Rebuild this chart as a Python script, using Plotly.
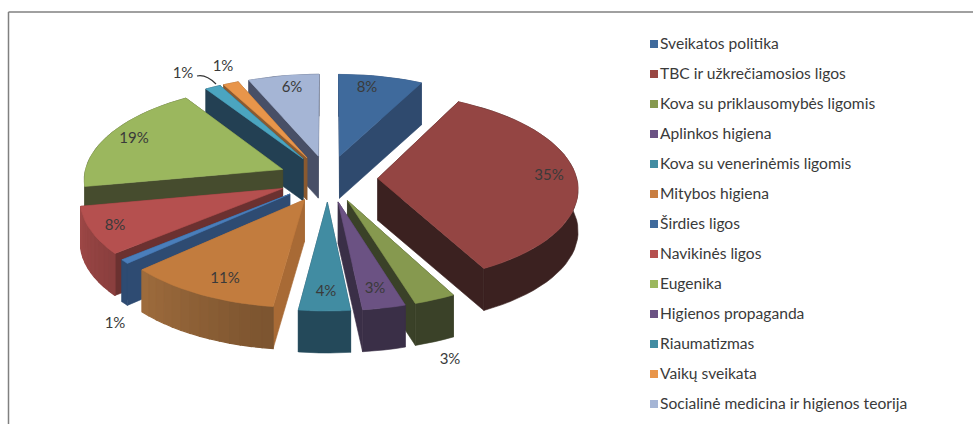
import math
import plotly.graph_objects as go

# ---------- data ----------
categories = ["Sveikatos politika", "TBC ir užkrečiamosios ligos", "Kova su priklausomybės ligomis",
              "Aplinkos higiena", "Kova su venerinėmis ligomis", "Mitybos higiena", "Širdies ligos",
              "Navikinės ligos", "Eugenika", "Higienos propaganda", "Riaumatizmas", "Vaikų sveikata",
              "Socialinė medicina ir higienos teorija"]
values = [7.6, 34.6, 3.0, 3.1, 3.7, 11.2, 0.7, 8.1, 18.7, 0.0, 1.4, 1.4, 6.4]
value_labels = ["8%", "35%", "3%", "3%", "4%", "11%", "1%", "8%", "19%", "", "1%", "1%", "6%"]

# ---------- style ----------
top_colors = ["#3F6A9C", "#944543", "#86994F", "#6B5283", "#418CA2", "#C27C3E", "#4A7EBB",
              "#B5504F", "#9BB75E", "#6B5283", "#4BA5C0", "#E8954A", "#A5B5D5"]
radial_colors = ["#2F4A6E", "#3B2120", "#3A4128", "#3A2F47", "#24495A", "#A86A35", "#2E4B72",
                 "#6B3130", "#464C2E", "#3A2F47", "#234053", "#8A5A30", "#484F66"]
arc_colors = ["#2F4A6E", "#3B2120", "#3A4128", "#3A2F47", "#24495A", "#7D5530", "#2E4B72",
              "#6B3130", "#464C2E", "#3A2F47", "#234053", "#8A5A30", "#484F66"]
legend_colors = ["#3F6A9C", "#994743", "#86994F", "#6B5283", "#418CA2", "#C87E42", "#3F6A9C",
                 "#B5504F", "#9BB75E", "#6B5283", "#418CA2", "#E8954A", "#A5B5D5"]
label_xy = [(367, 88), (549, 176), (450, 360), (375, 289), (326, 292), (225, 279), (115, 324),
            (115, 226), (134, 139), None, (183, 74), (223, 67), (292, 88)]
shaded = {5, 7}
FONT = "Lato"
TEXT = "#3A3A3A"

CX, CY, R, TILT, PERSP, EXPLODE, DEPTH = 328, 178.5, 199, 0.47, 0.094, 0.25, 42


def project(X, Y, down=0.0):
    s = 1 / (1 + PERSP * Y)
    return CX + R * X * s, CY - R * TILT * Y * s + down


def shade(hex_color, f):
    r, g, b = (int(hex_color[i:i + 2], 16) for i in (1, 3, 5))
    return "#%02x%02x%02x" % tuple(min(255, int(c * f)) for c in (r, g, b))


fig = go.Figure()


def poly(points, color, lw=0.6):
    fig.add_trace(go.Scatter(x=[p[0] for p in points] + [points[0][0]],
                             y=[p[1] for p in points] + [points[0][1]],
                             mode="lines", fill="toself", fillcolor=color,
                             line=dict(color=color, width=lw),
                             hoverinfo="skip", showlegend=False))


total = sum(values)
slices = []
acc = 0.0
for i, v in enumerate(values):
    a0, a1 = acc / total * 2 * math.pi, (acc + v) / total * 2 * math.pi
    acc += v
    if v > 0:
        slices.append((i, a0, a1))
slices.sort(key=lambda t: -math.cos((t[1] + t[2]) / 2))

for i, a0, a1 in slices:
    mid = (a0 + a1) / 2
    ox, oy = EXPLODE * math.sin(mid), EXPLODE * math.cos(mid)
    n = max(2, int(math.degrees(a1 - a0) / 3) + 1)
    angs = [a0 + (a1 - a0) * k / n for k in range(n + 1)]
    rim = [(ox + math.sin(a), oy + math.cos(a)) for a in angs]
    apex = (ox, oy)
    walls = []
    for edge, col in ((rim[0], radial_colors[i]), (rim[-1], radial_colors[i])):
        quad = [project(*apex), project(*edge), project(*edge, DEPTH), project(*apex, DEPTH)]
        walls.append(((apex[1] + edge[1]) / 2, quad, col, 0.6))
    if i in shaded:
        for k in range(n):
            am = math.degrees((angs[k] + angs[k + 1]) / 2)
            f = 1 + 0.5 * min(1, max(0, (am - 190) / 70))
            quad = [project(*rim[k]), project(*rim[k + 1]), project(*rim[k + 1], DEPTH), project(*rim[k], DEPTH)]
            walls.append(((rim[k][1] + rim[k + 1][1]) / 2, quad, shade(arc_colors[i], f), 1.2))
    else:
        quad = [project(*p) for p in rim] + [project(*p, DEPTH) for p in reversed(rim)]
        walls.append((sum(p[1] for p in rim) / len(rim), quad, arc_colors[i], 0.6))
    for _, quad, col, lw in sorted(walls, key=lambda w: -w[0]):
        poly(quad, col, lw)
    poly([project(*apex)] + [project(*p) for p in rim], top_colors[i])

# value labels
shown = [i for i, p in enumerate(label_xy) if p]
fig.add_trace(go.Scatter(x=[label_xy[i][0] for i in shown], y=[label_xy[i][1] for i in shown],
                         text=[value_labels[i] for i in shown], mode="text",
                         textposition="middle center", textfont=dict(family=FONT, size=15, color=TEXT),
                         hoverinfo="skip", showlegend=False))

# legend built as swatches plus text
LEG_Y = [45 + 30 * i for i in range(len(categories))]
fig.add_trace(go.Scatter(x=[654] * len(categories), y=[y - 1 for y in LEG_Y], mode="markers",
                         marker=dict(symbol="square", size=8, color=legend_colors),
                         hoverinfo="skip", showlegend=False))
fig.add_trace(go.Scatter(x=[660] * len(categories), y=LEG_Y, text=categories, mode="text",
                         textposition="middle right", textfont=dict(family=FONT, size=15.6, color=TEXT),
                         hoverinfo="skip", showlegend=False))

shapes = [
    dict(type="line", x0=8.5, x1=973, y0=12, y1=12, line=dict(color="#808080", width=1.5)),
    dict(type="line", x0=8.5, x1=8.5, y0=12, y1=424, line=dict(color="#808080", width=1.5)),
    dict(type="path", path="M197,76 Q206,74 216,84", line=dict(color="#333333", width=1.2)),
]

fig.update_layout(width=973, height=424, margin=dict(l=0, r=0, t=0, b=0),
                  paper_bgcolor="white", plot_bgcolor="white", shapes=shapes,
                  xaxis=dict(range=[0, 973], visible=False, fixedrange=True),
                  yaxis=dict(range=[424, 0], visible=False, fixedrange=True))
fig.write_html("out.html", config=dict(displayModeBar=False),
               post_script="document.body.style.margin='0';document.body.style.overflow='hidden';")
